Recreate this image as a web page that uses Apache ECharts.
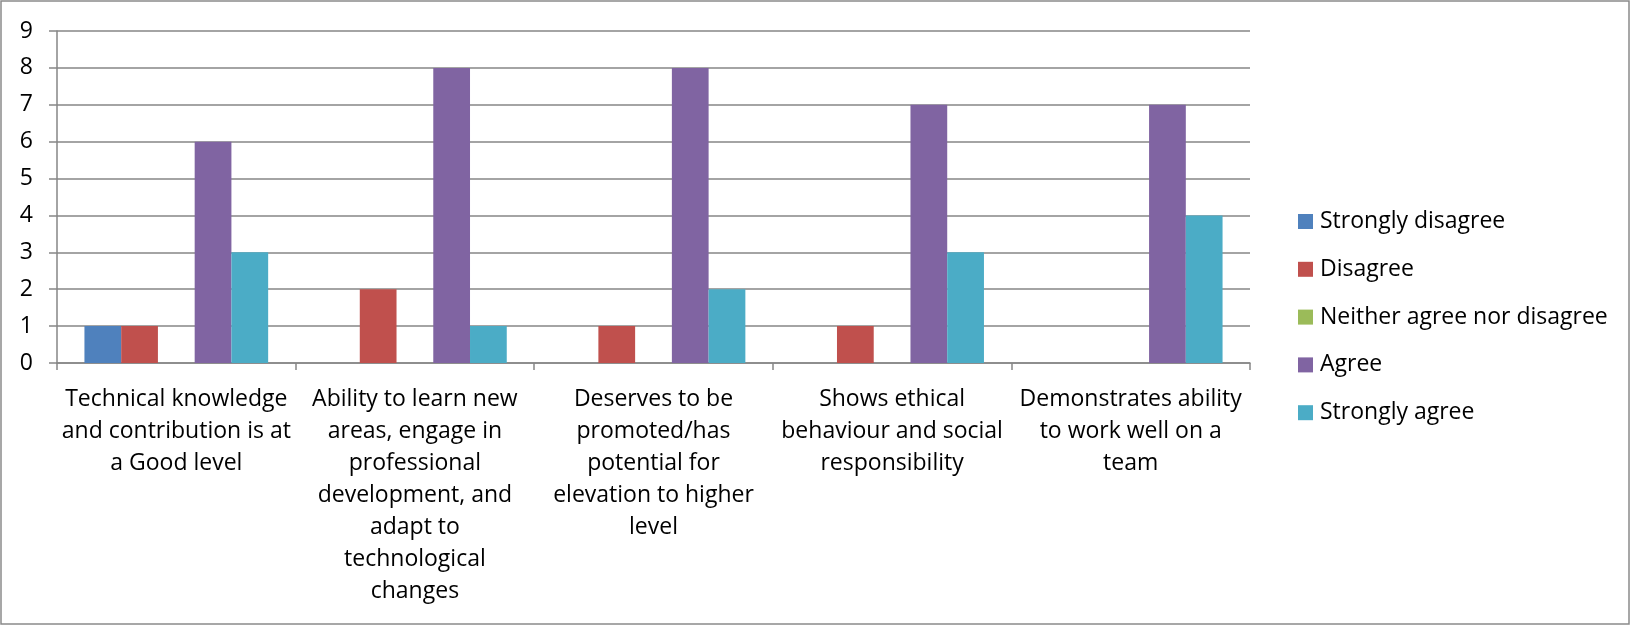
<!DOCTYPE html>
<html>
<head>
<meta charset="utf-8">
<script src="https://cdn.jsdelivr.net/npm/echarts@6/dist/echarts.min.js"></script>
<style>
html,body{margin:0;padding:0;background:#fff;}
#chart{width:1631px;height:626px;}
</style>
</head>
<body>
<div id="chart"></div>
<script>
const categories = [
  "Technical knowledge\nand contribution is at\na Good level",
  "Ability to learn new\nareas, engage in\nprofessional\ndevelopment, and\nadapt to\ntechnological\nchanges",
  "Deserves to be\npromoted/has\npotential for\nelevation to higher\nlevel",
  "Shows ethical\nbehaviour and social\nresponsibility",
  "Demonstrates ability\nto work well on a\nteam"
];
const seriesNames = ["Strongly disagree", "Disagree", "Neither agree nor disagree", "Agree", "Strongly agree"];
const stronglyDisagree = [1, 0, 0, 0, 0];
const disagree = [1, 2, 1, 1, 0];
const neither = [0, 0, 0, 0, 0];
const agree = [6, 8, 8, 7, 7];
const stronglyAgree = [3, 1, 2, 3, 4];
const colors = ["#4F81BD", "#C0504D", "#9BBB59", "#8064A2", "#4BACC6"];

const values = [stronglyDisagree, disagree, neither, agree, stronglyAgree];
const font = "'Open Sans', Lato, sans-serif";
const chart = echarts.init(document.getElementById('chart'), null, {renderer: 'canvas'});
chart.setOption({
  animation: false,
  color: colors,
  textStyle: {fontFamily: font},
  grid: {left: 57, top: 31, right: 381, bottom: 263, containLabel: false},
  legend: {
    orient: 'vertical',
    left: 1293,
    top: 205,
    itemWidth: 15,
    itemHeight: 15,
    itemGap: 24.8,
    icon: 'rect',
    textStyle: {fontSize: 23, lineHeight: 22, color: '#000', fontFamily: font, padding: [0, 0, 0, 2]},
    data: seriesNames
  },
  xAxis: {
    type: 'category',
    data: categories,
    axisLine: {show: true, lineStyle: {color: '#868686', width: 1.5}},
    axisTick: {show: true, length: 7, lineStyle: {color: '#868686', width: 1.5}},
    axisLabel: {interval: 0, fontSize: 23, lineHeight: 32, color: '#000', margin: 20, fontFamily: font}
  },
  yAxis: {
    type: 'value',
    min: 0, max: 9, interval: 1,
    axisLine: {show: true, lineStyle: {color: '#868686', width: 1.5}},
    axisTick: {show: true, length: 8, lineStyle: {color: '#868686', width: 1.5}},
    axisLabel: {fontSize: 23, color: '#000', margin: 24, fontFamily: font},
    splitLine: {lineStyle: {color: '#868686', width: 1.5}}
  },
  series: seriesNames.map((n, i) => ({
    name: n,
    type: 'bar',
    data: values[i],
    barGap: '0%',
    barCategoryGap: '23%',
    itemStyle: {color: colors[i]}
  })),
  graphic: [{
    type: 'rect',
    shape: {x: 1, y: 1, width: 1628, height: 623},
    style: {fill: null, stroke: '#8a8a8a', lineWidth: 1.5},
    silent: true
  }]
});
</script>
</body>
</html>
